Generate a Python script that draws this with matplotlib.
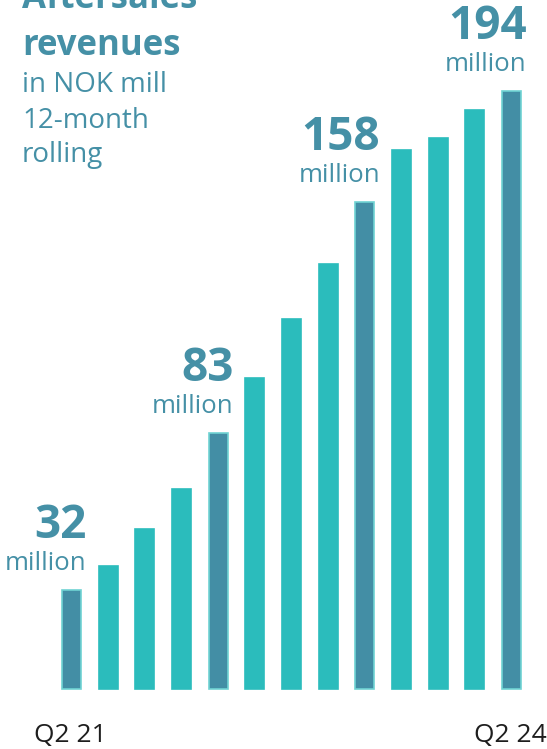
import matplotlib.pyplot as plt
import numpy as np

plt.rcParams['font.family'] = ['Open Sans', 'DejaVu Sans']

# Aftersales revenues, NOK mill, 12-month rolling, Q2 21 .. Q2 24
quarters = ['Q2 21', 'Q3 21', 'Q4 21', 'Q1 22', 'Q2 22', 'Q3 22', 'Q4 22',
            'Q1 23', 'Q2 23', 'Q3 23', 'Q4 23', 'Q1 24', 'Q2 24']
revenues = [32, 40, 52, 65, 83, 101, 120, 138, 158, 175, 179, 188, 194]
highlight = [0, 4, 8, 12]
tick_labels = ['Q2 21', 'Q2 24']

teal = '#2bbcbc'
blue = '#438ea5'
label_col = '#4590a6'

fig = plt.figure(figsize=(5.47, 7.49), dpi=100)
ax = fig.add_axes([0, 0, 1, 1])

x = np.arange(len(quarters))
colors = [blue if i in highlight else teal for i in x]
edges = ['#6fd3d3' if i in highlight else teal for i in x]
ax.bar(x, revenues, width=0.52, color=colors, edgecolor=edges, linewidth=1.2)

ax.set_xlim(-1.95, 12.967)
ax.set_ylim(-19.48, 223.7)
ax.axis('off')

# value callouts above the highlighted bars
for i in highlight:
    ax.annotate(f'{revenues[i]}', (x[i], revenues[i]), xytext=(11, 38),
                textcoords='offset points', ha='right', va='baseline',
                fontsize=33, fontweight='bold', color=label_col)
    ax.annotate('million', (x[i], revenues[i]), xytext=(11, 15),
                textcoords='offset points', ha='right', va='baseline',
                fontsize=18.5, color=label_col)

# first and last quarter labels under the bars
for lab, xi in zip(tick_labels, [x[0], x[-1]]):
    ax.annotate(lab, (xi, 0), xytext=(-1, -38), textcoords='offset points',
                ha='center', va='baseline', fontsize=19, color='#1e1e1e')

# heading block
fig.text(22 / 547, 1 - 8 / 749, 'Aftersales', fontsize=25, fontweight='bold',
         color=label_col, va='baseline')
fig.text(22 / 547, 1 - 55 / 749, 'revenues', fontsize=25, fontweight='bold',
         color=label_col, va='baseline')
for line, base in zip(['in NOK mill', '12-month', 'rolling'], [92, 128, 162]):
    fig.text(22 / 547, 1 - base / 749, line, fontsize=20, color=label_col,
             va='baseline')

fig.savefig('out.png', dpi=100)
